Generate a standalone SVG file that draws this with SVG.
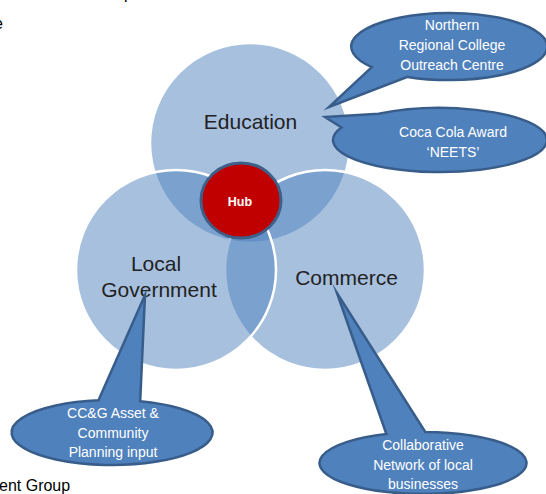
<svg xmlns="http://www.w3.org/2000/svg" width="546" height="494" viewBox="0 0 546 494">
  <style>
    .set { fill: rgba(79,129,189,0.5); stroke: #ffffff; stroke-width: 2.5; }
    .set-label { font-family: "Liberation Sans", Arial, sans-serif; font-size: 21px; fill: #222222; text-anchor: middle; }
    .callout { fill: #4f81bd; stroke: #385d8a; stroke-width: 2.5; stroke-linejoin: miter; stroke-miterlimit: 20; }
    .callout-text { font-family: "Liberation Sans", Arial, sans-serif; font-size: 14px; fill: #ffffff; text-anchor: middle; }
    .page-text { font-family: "Liberation Sans", Arial, sans-serif; font-size: 16px; fill: #000000; }
  </style>

  <rect width="546" height="494" fill="#ffffff"/>

  <!-- page text running off the edges -->
  <text class="page-text" x="124" y="-1">p</text>
  <text class="page-text" x="-6" y="29">e</text>
  <text class="page-text" x="-1" y="491">ent Group</text>

  <!-- Venn sets: translucent fills stack into darker overlaps -->
  <g id="education">
    <circle class="set" cx="250" cy="143" r="100"/>
    <text class="set-label" x="250.5" y="129">Education</text>
  </g>
  <g id="commerce">
    <circle class="set" cx="325" cy="270" r="100"/>
    <text class="set-label" x="346.5" y="285">Commerce</text>
  </g>
  <g id="local-government">
    <circle class="set" cx="176" cy="270" r="100"/>
    <text class="set-label" x="156" y="271">Local</text>
    <text class="set-label" x="159" y="297">Government</text>
  </g>

  <g id="hub">
    <ellipse cx="241" cy="200.5" rx="40" ry="37.5" fill="#c00000" stroke="#3e5f87" stroke-width="3"/>
    <text x="240" y="206" font-family="Liberation Sans, Arial, sans-serif" font-size="12.5" font-weight="bold" fill="#ffffff" text-anchor="middle">Hub</text>
  </g>

  <!-- wedge-ellipse callouts; the wedge is the pointer to its set -->
  <g id="connectors">
    <g id="callout-northern-regional">
      <path class="callout" d="M371.8,67.1 L329,107 L407.6,76.9 A98,33.5 0 1 0 371.8,67.1 Z"/>
      <text class="callout-text" x="452" y="30">Northern</text>
      <text class="callout-text" x="452" y="50">Regional College</text>
      <text class="callout-text" x="452" y="70">Outreach Centre</text>
    </g>
    <g id="callout-coca-cola">
      <path class="callout" d="M378.6,113.8 L325,117 L341.5,127.5 A107,32 0 1 0 378.6,113.8 Z"/>
      <text class="callout-text" x="453" y="137">Coca Cola Award</text>
      <text class="callout-text" x="453" y="157">‘NEETS’</text>
    </g>
    <g id="callout-ccg">
      <path class="callout" d="M98.5,400.3 L145,295 L140.2,401.3 A100.5,32.5 0 1 1 98.5,400.3 Z"/>
      <text class="callout-text" x="113" y="418">CC&amp;G Asset &amp;</text>
      <text class="callout-text" x="113" y="438">Community</text>
      <text class="callout-text" x="113" y="457">Planning input</text>
    </g>
    <g id="callout-collaborative">
      <path class="callout" d="M386.4,434 L337,293 L425.3,432 A103.5,31 0 1 1 386.4,434 Z"/>
      <text class="callout-text" x="423" y="450">Collaborative</text>
      <text class="callout-text" x="423" y="470">Network of local</text>
      <text class="callout-text" x="423" y="489">businesses</text>
    </g>
  </g>
</svg>
